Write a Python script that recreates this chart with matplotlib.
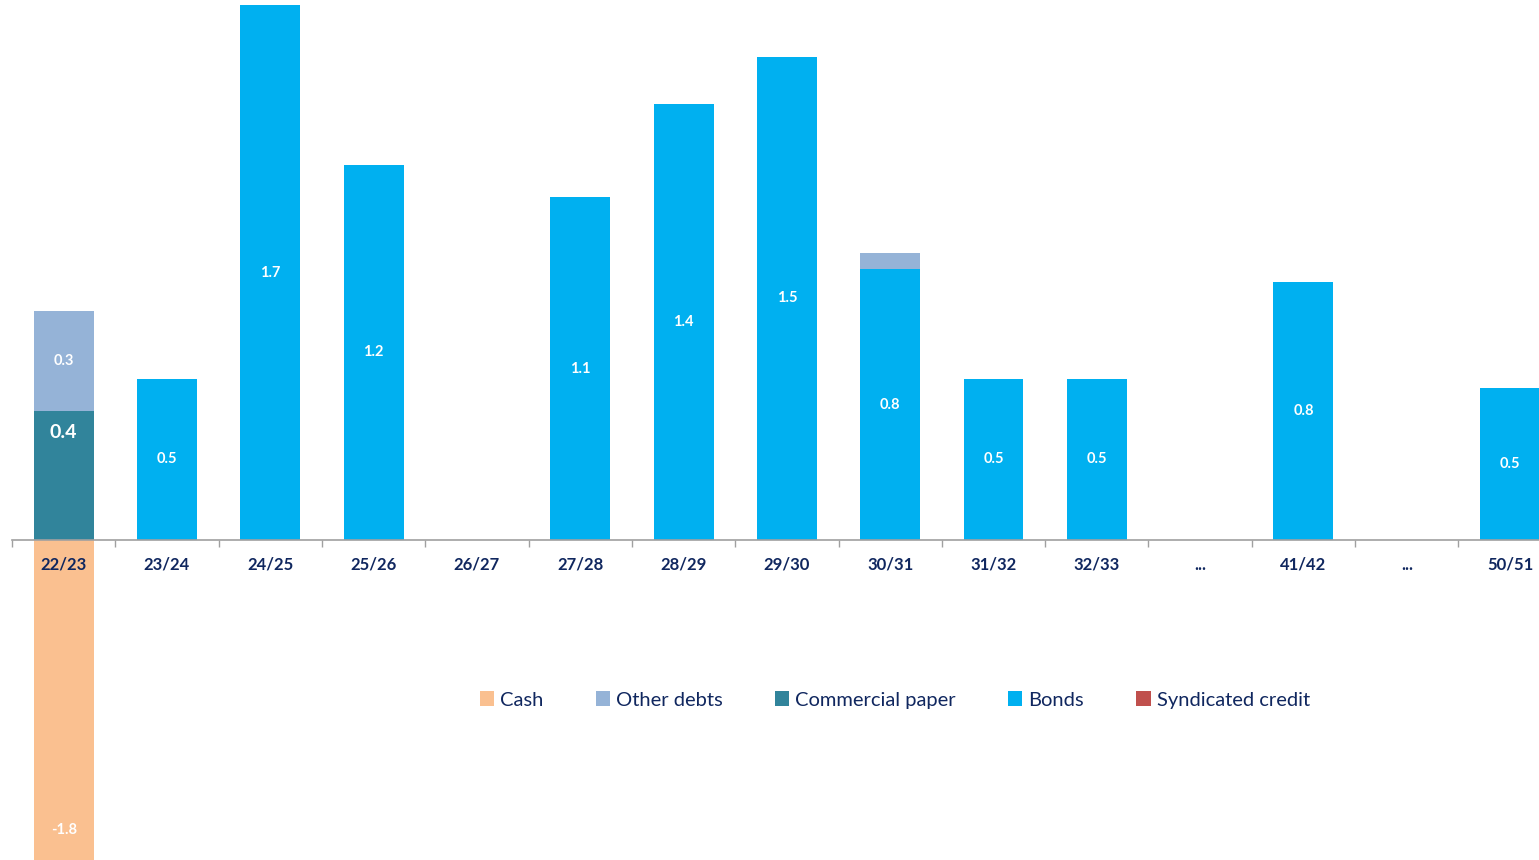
import matplotlib
matplotlib.use('Agg')
import matplotlib.pyplot as plt
import numpy as np

# data (bn)
years = ['22/23', '23/24', '24/25', '25/26', '26/27', '27/28', '28/29', '29/30',
         '30/31', '31/32', '32/33', '...', '41/42', '...', '50/51']
cash = [-1.8, 0, 0, 0, 0, 0, 0, 0, 0, 0, 0, 0, 0, 0, 0]
other_debts = [0.31, 0, 0, 0, 0, 0, 0, 0, 0.05, 0, 0, 0, 0, 0, 0]
comm_paper = [0.40, 0, 0, 0, 0, 0, 0, 0, 0, 0, 0, 0, 0, 0, 0]
bonds = [0, 0.50, 1.66, 1.165, 0, 1.065, 1.355, 1.50, 0.84, 0.50, 0.50, 0.0, 0.80, 0, 0.472]
synd_credit = [0] * 15

c_cash = '#FAC090'
c_other = '#95B3D7'
c_cp = '#31849B'
c_bonds = '#00B0F0'
c_synd = '#C0504D'
navy = '#10275F'

plt.rcParams['font.family'] = ['Lato', 'DejaVu Sans']

fig = plt.figure(figsize=(15.39, 8.6), dpi=100)
ax = fig.add_axes([0, 0, 1, 1])

x = np.arange(len(years))
w = 0.58
cash = np.array(cash)
other_debts = np.array(other_debts)
comm_paper = np.array(comm_paper)
bonds = np.array(bonds)
synd_credit = np.array(synd_credit)

b_cash = ax.bar(x, cash, w, color=c_cash, label='Cash')
b_cp = ax.bar(x, comm_paper, w, color=c_cp, label='Commercial paper')
b_bonds = ax.bar(x, bonds, w, bottom=comm_paper, color=c_bonds, label='Bonds')
base2 = comm_paper + bonds
b_other = ax.bar(x, other_debts, w, bottom=base2, color=c_other, label='Other debts')
b_synd = ax.bar(x, synd_credit, w, bottom=base2 + other_debts, color=c_synd,
                label='Syndicated credit')

# value labels
lab = dict(color='white', fontweight='bold', ha='center', va='center')
for i in range(len(years)):
    if cash[i] != 0:
        ax.text(x[i], cash[i] / 2, f'{cash[i]:.1f}', fontsize=10.5, **lab)
    if comm_paper[i] != 0:
        ax.text(x[i], comm_paper[i] - 0.065, f'{comm_paper[i]:.1f}', fontsize=14, **lab)
    if bonds[i] != 0 or i == 11:
        ax.text(x[i], comm_paper[i] + bonds[i] / 2, f'{bonds[i]:.1f}', fontsize=10.5, **lab)
    if other_debts[i] > 0.1:
        ax.text(x[i], base2[i] + other_debts[i] / 2, f'{other_debts[i]:.1f}', fontsize=10.5, **lab)

for s in ['top', 'right', 'left']:
    ax.spines[s].set_visible(False)
ax.spines['bottom'].set_position(('data', 0))
ax.spines['bottom'].set_color('#A0A0A0')
ax.spines['bottom'].set_linewidth(1.2)
ax.spines['bottom'].set_bounds(-0.5, 14.28)
ax.spines['bottom'].set_zorder(3)
ax.set_yticks([])

ax.set_xticks(x)
ax.set_xticklabels(years, fontsize=12, fontweight='bold', color=navy)
ax.tick_params(axis='x', which='major', length=0, pad=12)
ax.set_xticks(np.arange(-0.5, 14.6, 1), minor=True)
ax.tick_params(axis='x', which='minor', length=5, width=1, color='#A0A0A0', direction='out')

ax.set_xlim(-0.616, 14.28)
ax.set_ylim(-0.994, 1.677)

handles = [b_cash, b_other, b_cp, b_bonds, b_synd]
leg = ax.legend(handles, [h.get_label() for h in handles], ncol=5, frameon=False,
                loc='center', bbox_to_anchor=(0.5815, 0.186), fontsize=14.5,
                handlelength=0.7, handleheight=0.7, handletextpad=0.3,
                columnspacing=2.6)
for t in leg.get_texts():
    t.set_color(navy)

fig.savefig('out.png', dpi=100)
